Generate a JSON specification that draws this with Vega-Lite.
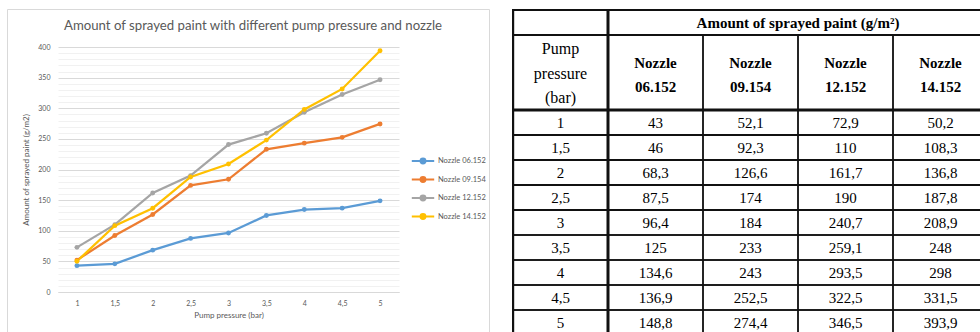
{
  "$schema": "https://vega.github.io/schema/vega-lite/v6.json",
  "background": "#ffffff",
  "padding": {"left": 6, "top": 8, "right": 0, "bottom": 0},
  "autosize": {"type": "pad"},
  "spacing": 22,
  "config": {
    "view": {"stroke": null},
    "locale": {"number": {"decimal": ",", "thousands": ".", "grouping": [3], "currency": ["", " €"]}},
    "font": "Lato"
  },
  "datasets": {
    "paint": [
      {"pressure": 1, "nozzle": "Nozzle 06.152", "value": 43},
      {"pressure": 1.5, "nozzle": "Nozzle 06.152", "value": 46},
      {"pressure": 2, "nozzle": "Nozzle 06.152", "value": 68.3},
      {"pressure": 2.5, "nozzle": "Nozzle 06.152", "value": 87.5},
      {"pressure": 3, "nozzle": "Nozzle 06.152", "value": 96.4},
      {"pressure": 3.5, "nozzle": "Nozzle 06.152", "value": 125},
      {"pressure": 4, "nozzle": "Nozzle 06.152", "value": 134.6},
      {"pressure": 4.5, "nozzle": "Nozzle 06.152", "value": 136.9},
      {"pressure": 5, "nozzle": "Nozzle 06.152", "value": 148.8},
      {"pressure": 1, "nozzle": "Nozzle 09.154", "value": 52.1},
      {"pressure": 1.5, "nozzle": "Nozzle 09.154", "value": 92.3},
      {"pressure": 2, "nozzle": "Nozzle 09.154", "value": 126.6},
      {"pressure": 2.5, "nozzle": "Nozzle 09.154", "value": 174},
      {"pressure": 3, "nozzle": "Nozzle 09.154", "value": 184},
      {"pressure": 3.5, "nozzle": "Nozzle 09.154", "value": 233},
      {"pressure": 4, "nozzle": "Nozzle 09.154", "value": 243},
      {"pressure": 4.5, "nozzle": "Nozzle 09.154", "value": 252.5},
      {"pressure": 5, "nozzle": "Nozzle 09.154", "value": 274.4},
      {"pressure": 1, "nozzle": "Nozzle 12.152", "value": 72.9},
      {"pressure": 1.5, "nozzle": "Nozzle 12.152", "value": 110},
      {"pressure": 2, "nozzle": "Nozzle 12.152", "value": 161.7},
      {"pressure": 2.5, "nozzle": "Nozzle 12.152", "value": 190},
      {"pressure": 3, "nozzle": "Nozzle 12.152", "value": 240.7},
      {"pressure": 3.5, "nozzle": "Nozzle 12.152", "value": 259.1},
      {"pressure": 4, "nozzle": "Nozzle 12.152", "value": 293.5},
      {"pressure": 4.5, "nozzle": "Nozzle 12.152", "value": 322.5},
      {"pressure": 5, "nozzle": "Nozzle 12.152", "value": 346.5},
      {"pressure": 1, "nozzle": "Nozzle 14.152", "value": 50.2},
      {"pressure": 1.5, "nozzle": "Nozzle 14.152", "value": 108.3},
      {"pressure": 2, "nozzle": "Nozzle 14.152", "value": 136.8},
      {"pressure": 2.5, "nozzle": "Nozzle 14.152", "value": 187.8},
      {"pressure": 3, "nozzle": "Nozzle 14.152", "value": 208.9},
      {"pressure": 3.5, "nozzle": "Nozzle 14.152", "value": 248},
      {"pressure": 4, "nozzle": "Nozzle 14.152", "value": 298},
      {"pressure": 4.5, "nozzle": "Nozzle 14.152", "value": 331.5},
      {"pressure": 5, "nozzle": "Nozzle 14.152", "value": 393.9}
    ],
    "header": [
      {"nozzle": "Pump pressure (bar)", "pressure": "h2a", "label": "Pump\npressure\n(bar)"},
      {"nozzle": "Nozzle 06.152", "pressure": "h2a", "label": "Nozzle\n06.152"},
      {"nozzle": "Nozzle 09.154", "pressure": "h2a", "label": "Nozzle\n09.154"},
      {"nozzle": "Nozzle 12.152", "pressure": "h2a", "label": "Nozzle\n12.152"},
      {"nozzle": "Nozzle 14.152", "pressure": "h2a", "label": "Nozzle\n14.152"},
      {"nozzle": "Nozzle 12.152", "pressure": "h1", "label": "Amount of sprayed paint (g/m²)"}
    ]
  },
  "hconcat": [
    {
      "width": 482,
      "height": 323,
      "view": {"stroke": "#d9d9d9", "strokeWidth": 1},
      "title": {"text": "Amount of sprayed paint with different pump pressure and nozzle", "font": "Lato", "fontSize": 13.2, "fontWeight": "normal", "color": "#595959", "anchor": "middle", "offset": -24, "dx": 5},
      "resolve": {"axis": {"y": "independent"}},
      "layer": [
        {
          "data": {"name": "paint"},
          "mark": {"type": "line", "strokeWidth": 2.25},
          "encoding": {
            "x": {"field": "pressure", "type": "quantitative", "scale": {"domain": [0.75, 5.25], "range": [51, 392], "nice": false, "zero": false}, "title": "Pump pressure (bar)",
              "axis": {"offset": -40, "values": [1, 1.5, 2, 2.5, 3, 3.5, 4, 4.5, 5], "format": ".1~f", "grid": false, "ticks": false, "domainColor": "#d9d9d9", "labelFont": "Lato", "labelFontSize": 7, "labelColor": "#595959", "labelPadding": 7, "labelFlush": false, "titleFont": "Lato", "titleFontSize": 8, "titleFontWeight": "normal", "titleColor": "#595959", "titlePadding": 5}},
            "y": {"field": "value", "type": "quantitative", "scale": {"domain": [0, 400], "range": [283, 38], "nice": false}, "title": "Amount of sprayed paint (g/m2)",
              "axis": {"offset": -51, "values": [0, 50, 100, 150, 200, 250, 300, 350, 400], "grid": true, "gridColor": "#d9d9d9", "domain": false, "ticks": false, "labelFont": "Lato", "labelFontSize": 7, "labelColor": "#595959", "labelPadding": 8, "titleFont": "Lato", "titleFontSize": 8, "titleFontWeight": "normal", "titleColor": "#595959", "titlePadding": 7}},
            "color": {"field": "nozzle", "type": "nominal",
              "scale": {"domain": ["Nozzle 06.152", "Nozzle 09.154", "Nozzle 12.152", "Nozzle 14.152"], "range": ["#5B9BD5", "#ED7D31", "#A5A5A5", "#FFC000"]},
              "legend": {"orient": "none", "legendX": 408, "legendY": 144, "title": null, "padding": 0,
                "symbolType": "M-1.6,0H1.6M-0.35,0A0.35,0.35,0,1,0,0.35,0A0.35,0.35,0,1,0,-0.35,0Z",
                "symbolSize": 196, "symbolStrokeWidth": 2, "rowPadding": 3.5, "labelOffset": 7,
                "labelFont": "Lato", "labelFontSize": 7.5, "labelColor": "#595959",
                "encode": {"symbols": {"update": {"fill": {"scale": "color", "field": "value"}, "stroke": {"scale": "color", "field": "value"}, "strokeWidth": {"value": 2}}}}}}
          }
        },
        {
          "data": {"name": "paint"},
          "mark": {"type": "point", "filled": true, "size": 24, "opacity": 1},
          "encoding": {
            "x": {"field": "pressure", "type": "quantitative", "scale": {"domain": [0.75, 5.25], "range": [51, 392], "nice": false, "zero": false}, "title": "Pump pressure (bar)"},
            "y": {"field": "value", "type": "quantitative", "scale": {"domain": [0, 400], "range": [283, 38], "nice": false},
              "axis": {"orient": "left", "offset": -51, "values": [10, 20, 30, 40, 60, 70, 80, 90, 110, 120, 130, 140, 160, 170, 180, 190, 210, 220, 230, 240, 260, 270, 280, 290, 310, 320, 330, 340, 360, 370, 380, 390], "grid": true, "gridColor": "#f1f1f1", "labels": false, "ticks": false, "domain": false, "title": null}},
            "color": {"field": "nozzle", "type": "nominal",
              "scale": {"domain": ["Nozzle 06.152", "Nozzle 09.154", "Nozzle 12.152", "Nozzle 14.152"], "range": ["#5B9BD5", "#ED7D31", "#A5A5A5", "#FFC000"]}}
          }
        }
      ]
    },
    {
      "width": 468,
      "height": 323,
      "layer": [
        {
          "data": {"name": "paint"},
          "mark": {"type": "rect", "fill": "transparent", "stroke": "#111111", "strokeWidth": 1.4, "clip": true},
          "encoding": {
            "x": {"field": "nozzle", "type": "nominal", "axis": null, "scale": {"domain": ["Pump pressure (bar)", "Nozzle 06.152", "Nozzle 09.154", "Nozzle 12.152", "Nozzle 14.152"], "range": [1, 476], "paddingInner": 0, "paddingOuter": 0}},
            "y": {"field": "pressure", "type": "nominal", "axis": null, "scale": {"domain": ["h1", "h2a", "h2b", "h2c", 1, 1.5, 2, 2.5, 3, 3.5, 4, 4.5, 5], "range": [1, 326], "paddingInner": 0, "paddingOuter": 0}}
          }
        },
        {
          "data": {"name": "paint"},
          "transform": [{"filter": "datum.nozzle === 'Nozzle 06.152'"}],
          "mark": {"type": "rect", "fill": "transparent", "stroke": "#111111", "strokeWidth": 1.4, "clip": true},
          "encoding": {
            "x": {"datum": "Pump pressure (bar)", "type": "nominal", "axis": null, "scale": {"domain": ["Pump pressure (bar)", "Nozzle 06.152", "Nozzle 09.154", "Nozzle 12.152", "Nozzle 14.152"], "range": [1, 476], "paddingInner": 0, "paddingOuter": 0}},
            "y": {"field": "pressure", "type": "nominal", "axis": null, "scale": {"domain": ["h1", "h2a", "h2b", "h2c", 1, 1.5, 2, 2.5, 3, 3.5, 4, 4.5, 5], "range": [1, 326], "paddingInner": 0, "paddingOuter": 0}}
          }
        },
        {
          "data": {"name": "header"},
          "transform": [{"filter": "datum.pressure === 'h2a'"}],
          "mark": {"type": "rect", "fill": "transparent", "stroke": "#111111", "strokeWidth": 1.4, "clip": true},
          "encoding": {
            "x": {"field": "nozzle", "type": "nominal", "axis": null, "scale": {"domain": ["Pump pressure (bar)", "Nozzle 06.152", "Nozzle 09.154", "Nozzle 12.152", "Nozzle 14.152"], "range": [1, 476], "paddingInner": 0, "paddingOuter": 0}},
            "y": {"datum": "h2a", "type": "nominal", "bandPosition": 0, "axis": null, "scale": {"domain": ["h1", "h2a", "h2b", "h2c", 1, 1.5, 2, 2.5, 3, 3.5, 4, 4.5, 5], "range": [1, 326], "paddingInner": 0, "paddingOuter": 0}},
            "y2": {"datum": "h2c", "bandPosition": 1}
          }
        },
        {
          "data": {"values": [{}]},
          "mark": {"type": "rect", "fill": "transparent", "stroke": "#111111", "strokeWidth": 1.8, "clip": true},
          "encoding": {
            "x": {"datum": "Pump pressure (bar)", "type": "nominal", "bandPosition": 0, "axis": null, "scale": {"domain": ["Pump pressure (bar)", "Nozzle 06.152", "Nozzle 09.154", "Nozzle 12.152", "Nozzle 14.152"], "range": [1, 476], "paddingInner": 0, "paddingOuter": 0}},
            "x2": {"datum": "Nozzle 14.152", "bandPosition": 1},
            "y": {"datum": "h1", "type": "nominal", "axis": null, "scale": {"domain": ["h1", "h2a", "h2b", "h2c", 1, 1.5, 2, 2.5, 3, 3.5, 4, 4.5, 5], "range": [1, 326], "paddingInner": 0, "paddingOuter": 0}}
          }
        },
        {
          "data": {"values": [{}]},
          "mark": {"type": "rule", "stroke": "#111111", "strokeWidth": 3, "clip": true},
          "encoding": {
            "x": {"datum": "Nozzle 06.152", "type": "nominal", "bandPosition": 0, "axis": null, "scale": {"domain": ["Pump pressure (bar)", "Nozzle 06.152", "Nozzle 09.154", "Nozzle 12.152", "Nozzle 14.152"], "range": [1, 476], "paddingInner": 0, "paddingOuter": 0}}
          }
        },
        {
          "data": {"values": [{}]},
          "mark": {"type": "rule", "stroke": "#111111", "strokeWidth": 2.4, "clip": true},
          "encoding": {
            "x": {"datum": "Pump pressure (bar)", "type": "nominal", "bandPosition": 0, "axis": null, "scale": {"domain": ["Pump pressure (bar)", "Nozzle 06.152", "Nozzle 09.154", "Nozzle 12.152", "Nozzle 14.152"], "range": [1, 476], "paddingInner": 0, "paddingOuter": 0}}
          }
        },
        {
          "data": {"values": [{}]},
          "mark": {"type": "rule", "stroke": "#111111", "strokeWidth": 3, "clip": true},
          "encoding": {
            "y": {"datum": 1, "type": "nominal", "bandPosition": 0, "axis": null, "scale": {"domain": ["h1", "h2a", "h2b", "h2c", 1, 1.5, 2, 2.5, 3, 3.5, 4, 4.5, 5], "range": [1, 326], "paddingInner": 0, "paddingOuter": 0}}
          }
        },
        {
          "data": {"name": "paint"},
          "transform": [{"filter": "datum.nozzle === 'Nozzle 06.152' && datum.pressure >= 1.5 && datum.pressure <= 3"}],
          "mark": {"type": "rule", "stroke": "#111111", "strokeWidth": 2.2, "clip": true},
          "encoding": {
            "y": {"field": "pressure", "type": "nominal", "bandPosition": 0, "axis": null, "scale": {"domain": ["h1", "h2a", "h2b", "h2c", 1, 1.5, 2, 2.5, 3, 3.5, 4, 4.5, 5], "range": [1, 326], "paddingInner": 0, "paddingOuter": 0}}
          }
        },
        {
          "data": {"name": "paint"},
          "mark": {"type": "text", "font": "Liberation Serif", "fontSize": 15, "color": "#000000", "clip": true},
          "encoding": {
            "x": {"field": "nozzle", "type": "nominal", "bandPosition": 0.5, "axis": null, "scale": {"domain": ["Pump pressure (bar)", "Nozzle 06.152", "Nozzle 09.154", "Nozzle 12.152", "Nozzle 14.152"], "range": [1, 476], "paddingInner": 0, "paddingOuter": 0}},
            "y": {"field": "pressure", "type": "nominal", "bandPosition": 0.5, "axis": null, "scale": {"domain": ["h1", "h2a", "h2b", "h2c", 1, 1.5, 2, 2.5, 3, 3.5, 4, 4.5, 5], "range": [1, 326], "paddingInner": 0, "paddingOuter": 0}},
            "text": {"field": "value", "type": "quantitative", "format": ".1~f"}
          }
        },
        {
          "data": {"name": "paint"},
          "transform": [{"filter": "datum.nozzle === 'Nozzle 06.152'"}],
          "mark": {"type": "text", "font": "Liberation Serif", "fontSize": 15, "color": "#000000", "clip": true},
          "encoding": {
            "x": {"datum": "Pump pressure (bar)", "type": "nominal", "bandPosition": 0.5, "axis": null, "scale": {"domain": ["Pump pressure (bar)", "Nozzle 06.152", "Nozzle 09.154", "Nozzle 12.152", "Nozzle 14.152"], "range": [1, 476], "paddingInner": 0, "paddingOuter": 0}},
            "y": {"field": "pressure", "type": "nominal", "bandPosition": 0.5, "axis": null, "scale": {"domain": ["h1", "h2a", "h2b", "h2c", 1, 1.5, 2, 2.5, 3, 3.5, 4, 4.5, 5], "range": [1, 326], "paddingInner": 0, "paddingOuter": 0}},
            "text": {"field": "pressure", "type": "quantitative", "format": ".1~f"}
          }
        },
        {
          "data": {"name": "header"},
          "transform": [{"filter": "datum.pressure === 'h2a' && datum.nozzle !== 'Pump pressure (bar)'"}],
          "mark": {"type": "text", "font": "Liberation Serif", "fontSize": 15, "fontWeight": "bold", "color": "#000000", "lineBreak": "\n", "lineHeight": 24, "dy": 3, "clip": true},
          "encoding": {
            "x": {"field": "nozzle", "type": "nominal", "bandPosition": 0.5, "axis": null, "scale": {"domain": ["Pump pressure (bar)", "Nozzle 06.152", "Nozzle 09.154", "Nozzle 12.152", "Nozzle 14.152"], "range": [1, 476], "paddingInner": 0, "paddingOuter": 0}},
            "y": {"field": "pressure", "type": "nominal", "bandPosition": 1, "axis": null, "scale": {"domain": ["h1", "h2a", "h2b", "h2c", 1, 1.5, 2, 2.5, 3, 3.5, 4, 4.5, 5], "range": [1, 326], "paddingInner": 0, "paddingOuter": 0}},
            "text": {"field": "label", "type": "nominal"}
          }
        },
        {
          "data": {"name": "header"},
          "transform": [{"filter": "datum.nozzle === 'Pump pressure (bar)'"}],
          "mark": {"type": "text", "font": "Liberation Serif", "fontSize": 16, "color": "#000000", "lineBreak": "\n", "lineHeight": 24.5, "dy": 1.5, "clip": true},
          "encoding": {
            "x": {"field": "nozzle", "type": "nominal", "bandPosition": 0.5, "axis": null, "scale": {"domain": ["Pump pressure (bar)", "Nozzle 06.152", "Nozzle 09.154", "Nozzle 12.152", "Nozzle 14.152"], "range": [1, 476], "paddingInner": 0, "paddingOuter": 0}},
            "y": {"field": "pressure", "type": "nominal", "bandPosition": 0.5, "axis": null, "scale": {"domain": ["h1", "h2a", "h2b", "h2c", 1, 1.5, 2, 2.5, 3, 3.5, 4, 4.5, 5], "range": [1, 326], "paddingInner": 0, "paddingOuter": 0}},
            "text": {"field": "label", "type": "nominal"}
          }
        },
        {
          "data": {"name": "header"},
          "transform": [{"filter": "datum.pressure === 'h1'"}],
          "mark": {"type": "text", "font": "Liberation Serif", "fontSize": 15, "fontWeight": "bold", "color": "#000000", "clip": true},
          "encoding": {
            "x": {"field": "nozzle", "type": "nominal", "bandPosition": 0, "axis": null, "scale": {"domain": ["Pump pressure (bar)", "Nozzle 06.152", "Nozzle 09.154", "Nozzle 12.152", "Nozzle 14.152"], "range": [1, 476], "paddingInner": 0, "paddingOuter": 0}},
            "y": {"field": "pressure", "type": "nominal", "bandPosition": 0.5, "axis": null, "scale": {"domain": ["h1", "h2a", "h2b", "h2c", 1, 1.5, 2, 2.5, 3, 3.5, 4, 4.5, 5], "range": [1, 326], "paddingInner": 0, "paddingOuter": 0}},
            "text": {"field": "label", "type": "nominal"}
          }
        }
      ]
    }
  ]
}
